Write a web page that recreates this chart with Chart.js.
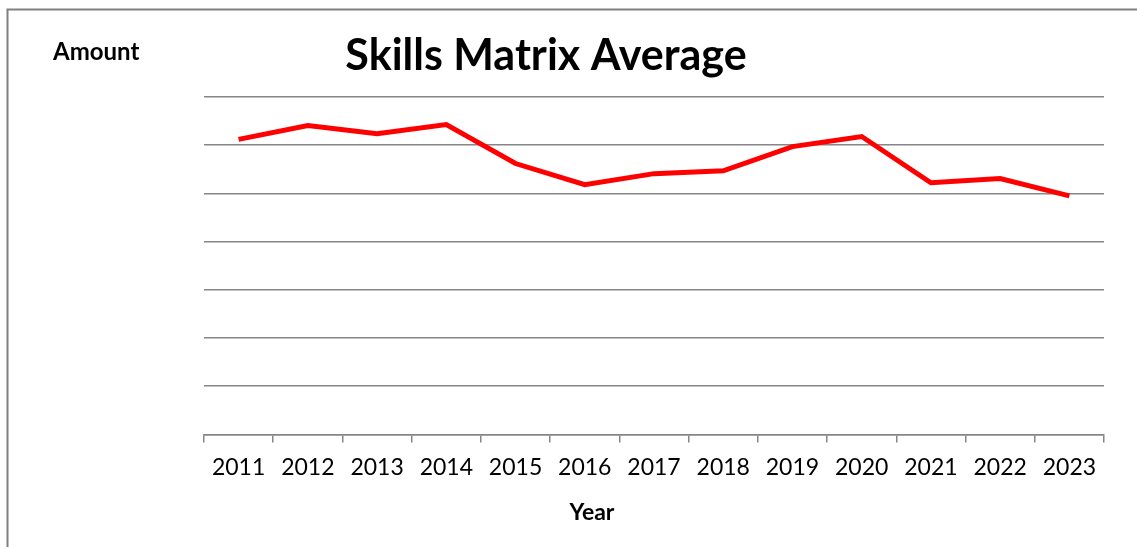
<!DOCTYPE html>
<html>
<head>
<meta charset="utf-8">
<script src="https://cdn.jsdelivr.net/npm/chart.js@4/dist/chart.umd.min.js"></script>
<style>
html,body{margin:0;padding:0;background:#fff;}
#wrap{position:relative;width:1137px;height:547px;}
</style>
</head>
<body>
<div id="wrap"><canvas id="c" width="1137" height="547"></canvas></div>
<script>
const categories = ["2011","2012","2013","2014","2015","2016","2017","2018","2019","2020","2021","2022","2023"];
const seriesValues = [61.2, 64.1, 62.4, 64.3, 56.2, 51.8, 54.1, 54.7, 59.7, 61.8, 52.2, 53.1, 49.5];
const titleText = "Skills Matrix Average";
const yTitle = "Amount";
const xTitle = "Year";

const textPlugin = {
  id: 'texts',
  afterDraw(chart) {
    const ctx = chart.ctx;
    ctx.save();
    // frame
    ctx.strokeStyle = '#808080';
    ctx.lineWidth = 2;
    ctx.beginPath();
    ctx.moveTo(7.5, 547);
    ctx.lineTo(7.5, 9.5);
    ctx.lineTo(1137, 9.5);
    ctx.stroke();
    ctx.fillStyle = '#000';
    ctx.textAlign = 'center';
    ctx.textBaseline = 'alphabetic';
    ctx.font = 'bold 43px Lato';
    ctx.fillText(titleText, 546, 70);
    ctx.font = 'bold 23px Lato';
    ctx.fillText(xTitle, 592, 520);
    ctx.font = 'bold 24px Lato';
    ctx.textAlign = 'left';
    ctx.fillText(yTitle, 53, 60);
    ctx.restore();
  }
};

new Chart(document.getElementById('c'), {
  type: 'line',
  data: {
    labels: categories,
    datasets: [{
      data: seriesValues,
      borderColor: '#ff0000',
      borderWidth: 5,
      pointRadius: 0,
      tension: 0,
      fill: false
    }]
  },
  options: {
    responsive: false,
    animation: false,
    devicePixelRatio: 1,
    layout: { padding: { left: 204, right: 33, top: 97, bottom: 55 } },
    plugins: { legend: { display: false }, tooltip: { enabled: false }, title: { display: false } },
    scales: {
      x: {
        offset: true,
        grid: { offset: true, drawOnChartArea: false, drawTicks: true, tickLength: 8, color: '#868686', lineWidth: 1.5 },
        border: { display: true, color: '#868686', width: 1.5 },
        ticks: { color: '#000', font: { family: 'Lato', size: 23 }, padding: 11, maxRotation: 0, autoSkip: false }
      },
      y: {
        min: 0, max: 70,
        ticks: { display: false, stepSize: 10 },
        grid: { drawTicks: false, color: '#868686', lineWidth: 1.5 },
        border: { display: false }
      }
    }
  },
  plugins: [textPlugin]
});
</script>
</body>
</html>
